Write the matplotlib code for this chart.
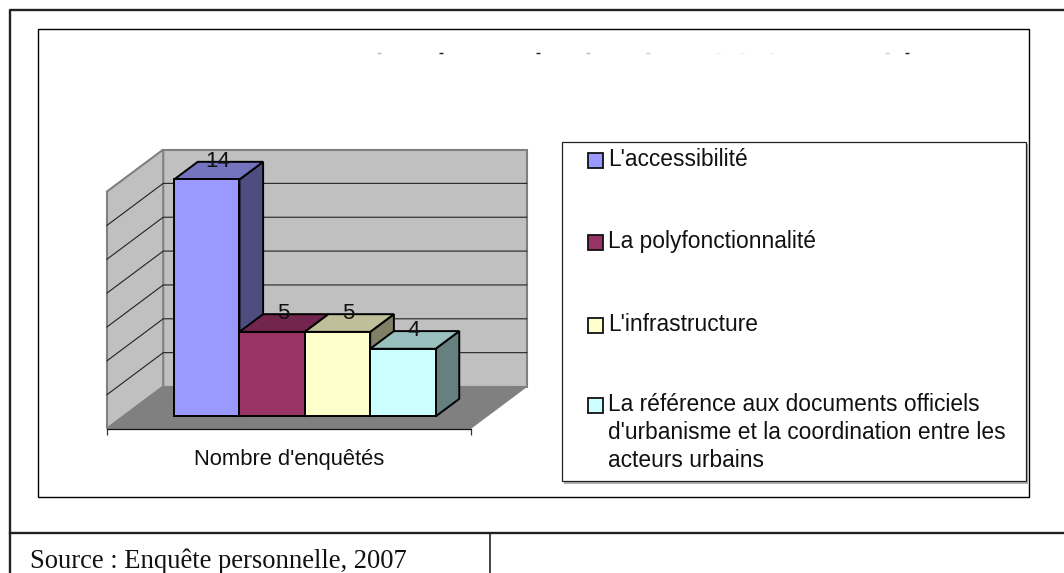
import matplotlib
matplotlib.use("Agg")
import matplotlib.pyplot as plt
from matplotlib.patches import Rectangle

# data
series = ["L'accessibilité", "La polyfonctionnalité", "L'infrastructure",
          "La référence aux documents officiels\nd'urbanisme et la coordination entre les\nacteurs urbains"]
values = [14, 5, 5, 4]
category = "Nombre d'enquêtés"
source = "Source : Enquête personnelle, 2007"
y_ticks = [0, 2, 4, 6, 8, 10, 12, 14]

front = ["#9999FF", "#993366", "#FFFFCC", "#CCFFFF"]
top = ["#7373BF", "#73264D", "#BFBF99", "#99BFBF"]
side = ["#4D4D80", "#4D1A33", "#808066", "#668080"]

W, H = 1064, 573
fig = plt.figure(figsize=(W / 100, H / 100), dpi=100, facecolor="white")
plt.rcParams["font.family"] = ["Liberation Sans", "DejaVu Sans"]

# page layer in pixels, for the document frame and the legend
page = fig.add_axes([0, 0, 1, 1])
page.set_xlim(0, W)
page.set_ylim(H, 0)
page.axis("off")

page.plot([W, 9.5, 9.5], [10, 10, H], color="#222222", lw=1.7)
page.plot([9.5, W], [533, 533], color="#222222", lw=1.7)
page.plot([490, 490], [533, H], color="#222222", lw=1.2)
page.add_patch(Rectangle((38, 29), 991, 468, fc="white", ec="black", lw=1.0))
page.text(30, 567.5, source, family="Liberation Serif", fontsize=19.2, color="#111111", va="baseline")

# what is left of the title, which is white in the original
for xp, shade in [(379, "#BBBBBB"), (441, "#222222"), (538, "#222222"), (588, "#BBBBBB"),
                  (648, "#CCCCCC"), (718, "#EEEEEE"), (742, "#EEEEEE"), (772, "#EEEEEE"),
                  (887, "#CCCCCC"), (907, "#222222")]:
    page.plot([xp - 2, xp + 2], [52.5, 52.5], color=shade, lw=1.0, solid_capstyle="butt")

# legend
page.add_patch(Rectangle((563.5, 143.5), 464, 340, fc="#B0B0B0", ec="none"))
page.add_patch(Rectangle((562, 142), 463.5, 339, fc="white", ec="#222222", lw=0.9))
legend_y = [153, 235, 318, 398]
for name, col, yp in zip(series, front, legend_y):
    page.add_patch(Rectangle((588, yp), 15, 15, fc=col, ec="#111111", lw=1.3))
    page.text(608, yp + 13, name.split("\n")[0], fontsize=16.4, color="#111111", va="baseline")
    for i, line in enumerate(name.split("\n")[1:]):
        page.text(608, yp + 13 + 28 * (i + 1), line, fontsize=16.4, color="#111111", va="baseline")

# chart: the axes is the front plane of the 3D box, one x unit = one bar width
gap = 0.78
xmax = 2 * gap + len(values)
ymax = max(y_ticks)
ax = fig.add_axes([107 / W, 1 - 428.5 / H, 363.5 / W, 237 / H])
ax.patch.set_alpha(0)
ax.set_xlim(0, xmax)
ax.set_ylim(0, ymax)
depth_x = 0.86
depth_y = 2.48
bar_d0, bar_d1 = 0.286, 0.707


def proj(x, y, d):
    return x + depth_x * d, y + depth_y * d


def face(points, **kw):
    xy = [proj(*p) for p in points]
    ax.fill([p[0] for p in xy], [p[1] for p in xy], clip_on=False, **kw)


# walls and floor
wall = dict(fc="#C0C0C0", ec="#808080", lw=1.5, joinstyle="miter")
face([(0, 0, 1), (xmax, 0, 1), (xmax, ymax, 1), (0, ymax, 1)], zorder=1, **wall)
face([(0, 0, 0), (0, 0, 1), (0, ymax, 1), (0, ymax, 0)], zorder=1, **wall)
for v in y_ticks[1:-1]:
    a = proj(0, v, 0)
    b = proj(0, v, 1)
    c = proj(xmax, v, 1)
    ax.plot([a[0], b[0], c[0]], [a[1], b[1], c[1]], color="#222222", lw=0.8, zorder=2, clip_on=False)
face([(0, 0, 0), (xmax, 0, 0), (xmax, 0, 1), (0, 0, 1)], fc="#808080", ec="#808080", lw=0.8, zorder=3)

# bars, left to right
edge = dict(ec="black", lw=1.4, joinstyle="miter")
for i, v in enumerate(values):
    x0, x1 = gap + i, gap + i + 1
    z = 4 + i
    face([(x1, 0, bar_d0), (x1, 0, bar_d1), (x1, v, bar_d1), (x1, v, bar_d0)], fc=side[i], zorder=z, **edge)
    face([(x0, v, bar_d0), (x1, v, bar_d0), (x1, v, bar_d1), (x0, v, bar_d1)], fc=top[i], zorder=z, **edge)
    face([(x0, 0, bar_d0), (x1, 0, bar_d0), (x1, v, bar_d0), (x0, v, bar_d0)], fc=front[i], zorder=z, **edge)
    lx, ly = proj(x0 + 0.5, v, 0.5 * (bar_d0 + bar_d1))
    _, ly = proj(x0, v, bar_d1)
    ax.annotate(str(v), (lx, ly), xytext=(-0.7, -3.6), textcoords="offset points", ha="center",
                va="baseline", fontsize=16, color="#111111", zorder=20, annotation_clip=False)

# category axis
for name in ["top", "left", "right"]:
    ax.spines[name].set_visible(False)
ax.spines["bottom"].set_color("#111111")
ax.spines["bottom"].set_linewidth(0.9)
ax.spines["bottom"].set_zorder(4)
ax.set_yticks([])
ax.set_xticks([0, xmax])
ax.set_xticklabels(["", ""])
ax.tick_params(axis="x", length=4, width=0.9, color="#333333", pad=0)
ax.set_xlabel(category, fontsize=15.8, color="#111111", labelpad=11)

fig.savefig("out.png", dpi=100)
